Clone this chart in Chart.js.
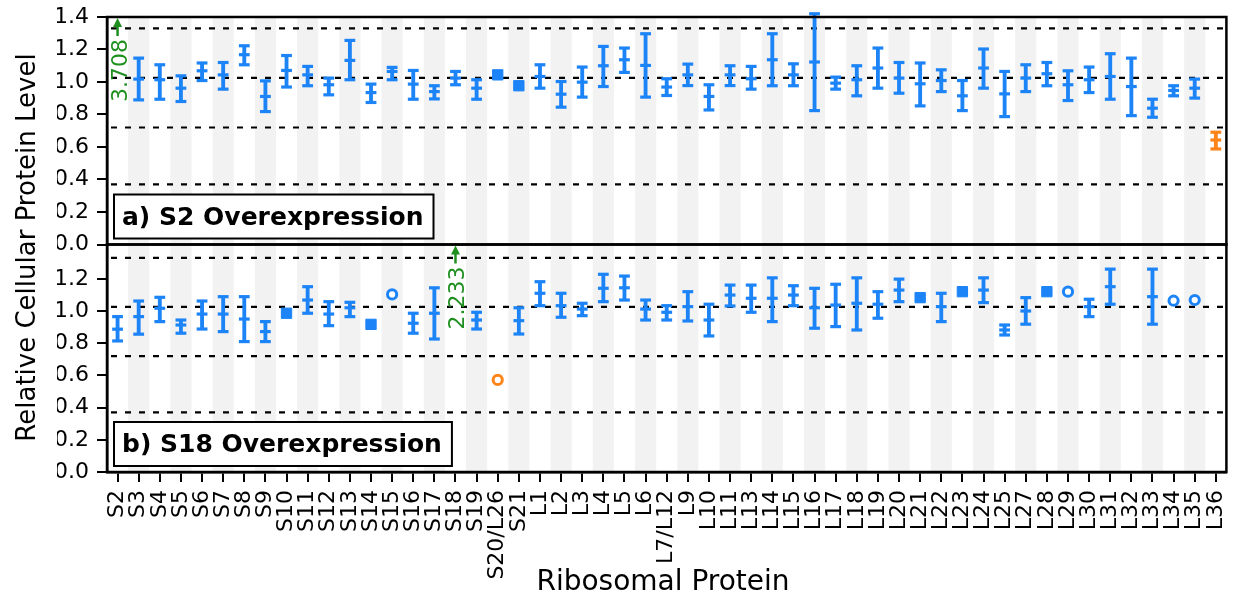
<!DOCTYPE html>
<html>
<head>
<meta charset="utf-8">
<title>Ribosomal Protein</title>
<script src="https://cdn.jsdelivr.net/npm/chart.js@4.4.1/dist/chart.umd.min.js"></script>
<style>
  body { margin: 0; background: #fff; }
  #kutu { width: 1235px; height: 596px; position: relative; }
</style>
</head>
<body>
<div id="kutu"><canvas id="grafik"></canvas></div>
<script>
var proteins = ['S2','S3','S4','S5','S6','S7','S8','S9','S10','S11','S12','S13','S14','S15','S16','S17','S18','S19','S20/L26','S21',
  'L1','L2','L3','L4','L5','L6','L7/L12','L9','L10','L11','L13','L14','L15','L16','L17','L18','L19','L20','L21','L22','L23','L24',
  'L25','L27','L28','L29','L30','L31','L32','L33','L34','L35','L36'];

/* a) S2 overexpression */
var aMean = [null,1.018,1.014,0.962,1.069,1.044,1.168,0.911,1.071,1.044,0.983,1.133,0.935,1.065,0.987,0.941,1.024,0.962,null,null,
  1.034,0.925,0.999,1.100,1.137,1.102,0.969,1.044,0.911,1.044,1.020,1.137,1.044,1.123,0.993,1.014,1.086,1.024,0.989,1.009,0.915,1.086,
  0.927,1.024,1.051,0.983,1.014,1.034,0.972,0.839,0.948,0.962,0.643];
var aLow = [null,0.890,0.894,0.880,1.009,0.956,1.106,0.818,0.969,0.977,0.921,1.014,0.874,1.014,0.894,0.896,0.983,0.894,null,null,
  0.962,0.845,0.907,0.972,1.059,0.907,0.917,0.978,0.828,0.978,0.956,0.977,0.977,0.824,0.956,0.915,0.962,0.931,0.853,0.941,0.824,0.962,
  0.787,0.941,0.977,0.886,0.935,0.894,0.793,0.783,0.915,0.901,0.588];
var aHigh = [null,1.147,1.106,1.038,1.117,1.120,1.223,1.007,1.163,1.096,1.024,1.256,0.987,1.090,1.071,0.977,1.065,1.014,null,null,
  1.106,1.003,1.092,1.219,1.209,1.297,1.020,1.110,0.983,1.100,1.096,1.297,1.112,1.420,1.030,1.100,1.209,1.120,1.117,1.075,1.009,1.203,
  1.065,1.106,1.120,1.069,1.092,1.174,1.147,0.894,0.977,1.018,0.691];
var aSquareCats = ['S20/L26','S21'];
var aSquareVals = [1.044, 0.977];
var aCircleCats = [];
var aCircleVals = [];
var aOrange = ['L36'];
var aArrowCats = ['S2'];
var aArrowTexts = ['3.708'];

/* b) S18 overexpression */
var bMean = [0.887,0.965,1.017,0.913,0.981,0.981,0.950,0.872,null,1.068,0.981,1.020,null,null,0.924,0.986,null,0.944,null,0.940,
  1.110,1.033,1.012,1.141,1.144,1.012,0.992,1.027,0.944,1.099,1.079,1.079,1.099,1.020,1.037,1.048,1.042,1.130,null,1.027,null,1.130,
  0.882,1.000,null,null,1.027,1.151,null,1.089,null,null,null];
var bLow = [0.814,0.856,0.934,0.862,0.888,0.872,0.810,0.810,null,0.986,0.909,0.965,null,null,0.862,0.826,null,0.888,null,0.857,
  1.033,0.961,0.971,1.058,1.068,0.944,0.944,0.938,0.845,1.031,0.992,0.934,1.033,0.893,0.903,0.882,0.955,1.058,null,0.934,null,1.052,
  0.851,0.918,null,null,0.965,1.042,null,0.918,null,null,null];
var bHigh = [0.965,1.062,1.085,0.944,1.062,1.089,1.089,0.934,null,1.151,1.058,1.054,null,null,0.986,1.144,null,0.992,null,1.020,
  1.182,1.110,1.048,1.228,1.217,1.068,1.033,1.120,1.042,1.161,1.161,1.206,1.157,1.141,1.166,1.206,1.120,1.198,null,1.110,null,1.206,
  0.913,1.083,null,null,1.073,1.260,null,1.260,null,null,null];
var bSquareCats = ['S10','S14','L21','L23','L28'];
var bSquareVals = [0.986, 0.917, 1.083, 1.120, 1.120];
var bCircleCats = ['S15','S20/L26','L29','L34','L35'];
var bCircleVals = [1.103, 0.572, 1.120, 1.064, 1.068];
var bOrange = ['S20/L26'];
var bArrowCats = ['S18'];
var bArrowTexts = ['2.233'];

var panelTitles = ['a) S2 Overexpression', 'b) S18 Overexpression'];
var topTicks = [0, 0.2, 0.4, 0.6, 0.8, 1.0, 1.2, 1.4];
var bottomTicks = [0, 0.2, 0.4, 0.6, 0.8, 1.0, 1.2];
var refLines = [0.37, 0.72, 1.025, 1.33];

var MAVI = '#1c84f7';
var TURUNCU = '#fd8418';
var YESIL = '#1f8f1f';
var FONT = '"DejaVu Sans", sans-serif';

function renkSec(orangeList) {
  return function (ctx) {
    var ad = ctx.raw && ctx.raw.x !== undefined ? ctx.raw.x : proteins[ctx.dataIndex];
    return orangeList.indexOf(ad) >= 0 ? TURUNCU : MAVI;
  };
}

function panelSetleri(mean, low, high, sqCats, sqVals, ciCats, ciVals, orange, eksen) {
  var renk = renkSec(orange);
  var araliklar = low.map(function (v, i) { return v === null ? null : [v, high[i]]; });
  var nokta = function (values, style, r, bw, fill) {
    return {
      type: 'line', data: values, yAxisID: eksen, showLine: false, clip: false,
      pointStyle: style, pointRadius: r, pointBorderWidth: bw,
      pointBorderColor: renk, pointBackgroundColor: fill || renk
    };
  };
  return [
    { type: 'bar', data: araliklar, yAxisID: eksen, grouped: false, barThickness: 3.2,
      backgroundColor: renk, borderWidth: 0, clip: false },
    nokta(high, 'line', 5.4, 3.2),
    nokta(low, 'line', 5.4, 3.2),
    nokta(mean, 'line', 5.4, 3.2),
    nokta(sqCats.map(function (c, i) { return { x: c, y: sqVals[i] }; }), 'rect', 7.3, 1),
    nokta(ciCats.map(function (c, i) { return { x: c, y: ciVals[i] }; }), 'circle', 4.6, 3, '#fff')
  ];
}

var panelCizimi = {
  id: 'panelCizimi',
  beforeDraw: function (chart) {
    var ctx = chart.ctx, area = chart.chartArea, x = chart.scales.x;
    var w = x.getPixelForValue(1) - x.getPixelForValue(0);
    ctx.save();
    ctx.fillStyle = '#f2f2f2';
    for (var i = 1; i < proteins.length; i += 2) {
      var px = x.getPixelForValue(i);
      ctx.fillRect(px - w / 2, area.top, w, area.bottom - area.top);
    }
    ctx.restore();
  },
  beforeDatasetsDraw: function (chart) {
    var ctx = chart.ctx, area = chart.chartArea;
    ctx.save();
    ctx.strokeStyle = '#000';
    ctx.lineWidth = 2.2;
    ctx.setLineDash([6, 8]);
    [chart.scales.yTop, chart.scales.yBot].forEach(function (s) {
      refLines.forEach(function (v) {
        var py = s.getPixelForValue(v);
        ctx.beginPath();
        ctx.moveTo(area.left + 4, py);
        ctx.lineTo(area.right, py);
        ctx.stroke();
      });
    });
    ctx.restore();
  },
  afterDatasetsDraw: function (chart) {
    var ctx = chart.ctx, area = chart.chartArea, x = chart.scales.x;
    var paneller = [
      { s: chart.scales.yTop, title: panelTitles[0], okCats: aArrowCats, okTexts: aArrowTexts },
      { s: chart.scales.yBot, title: panelTitles[1], okCats: bArrowCats, okTexts: bArrowTexts }
    ];
    ctx.save();
    paneller.forEach(function (p) {
      var s = p.s;
      // cerceve
      ctx.strokeStyle = '#000';
      ctx.lineWidth = 2.5;
      ctx.strokeRect(area.left, s.top, area.right - area.left, s.bottom - s.top);

      // panel basligi kutusu
      ctx.font = 'bold 25px ' + FONT;
      var tw = ctx.measureText(p.title).width;
      var kx = area.left + 7;
      var ky = s.bottom - 50;
      ctx.fillStyle = '#fff';
      ctx.fillRect(kx, ky, tw + 18, 44);
      ctx.lineWidth = 2;
      ctx.strokeRect(kx, ky, tw + 18, 44);
      ctx.fillStyle = '#000';
      ctx.textAlign = 'left';
      ctx.textBaseline = 'alphabetic';
      ctx.fillText(p.title, kx + 8, s.bottom - 20);

      // olcek disi degerler icin oklar
      p.okCats.forEach(function (c, i) {
        var px = x.getPixelForValue(proteins.indexOf(c));
        var ust = s.top;
        ctx.strokeStyle = YESIL;
        ctx.fillStyle = YESIL;
        ctx.lineWidth = 2.5;
        ctx.beginPath();
        ctx.moveTo(px, ust + 19);
        ctx.lineTo(px, ust + 8);
        ctx.stroke();
        ctx.beginPath();
        ctx.moveTo(px, ust + 1);
        ctx.lineTo(px - 4.5, ust + 10);
        ctx.lineTo(px + 4.5, ust + 10);
        ctx.closePath();
        ctx.fill();
        ctx.save();
        ctx.translate(px + 9, ust + 22);
        ctx.rotate(-Math.PI / 2);
        ctx.font = '22px ' + FONT;
        ctx.textAlign = 'right';
        ctx.textBaseline = 'alphabetic';
        ctx.fillText(p.okTexts[i], 0, 0);
        ctx.restore();
      });
    });
    ctx.restore();
  },
  afterDraw: function (chart) {
    var ctx = chart.ctx, area = chart.chartArea;
    ctx.save();
    ctx.fillStyle = '#000';
    ctx.font = '28px ' + FONT;
    ctx.textAlign = 'center';
    ctx.textBaseline = 'alphabetic';
    ctx.fillText('Ribosomal Protein', 663, 590);
    ctx.translate(35, (area.top + area.bottom) / 2 + 3);
    ctx.rotate(-Math.PI / 2);
    ctx.font = '26px ' + FONT;
    ctx.fillText('Relative Cellular Protein Level', 0, 0);
    ctx.restore();
  }
};

function yEkseni(maxDeger, tikler) {
  return {
    type: 'linear', position: 'left', stack: 'paneller', stackWeight: 1,
    min: 0, max: maxDeger,
    afterBuildTicks: function (scale) {
      scale.ticks = tikler.map(function (v) { return { value: v }; });
    },
    afterFit: function (scale) {
      scale.width = 50;
      scale.paddingTop = 0;
      scale.paddingBottom = 0;
    },
    ticks: {
      autoSkip: false, color: '#000', padding: 8, font: { family: FONT, size: 22 },
      callback: function (v) { return Number(v).toFixed(1); }
    },
    grid: { drawOnChartArea: false, tickLength: 10, color: '#000', lineWidth: 2 },
    border: { color: '#000', width: 2.5 }
  };
}

var datasets = panelSetleri(aMean, aLow, aHigh, aSquareCats, aSquareVals, aCircleCats, aCircleVals, aOrange, 'yTop')
  .concat(panelSetleri(bMean, bLow, bHigh, bSquareCats, bSquareVals, bCircleCats, bCircleVals, bOrange, 'yBot'));

new Chart(document.getElementById('grafik'), {
  type: 'bar',
  data: { labels: proteins, datasets: datasets },
  options: {
    responsive: true,
    maintainAspectRatio: false,
    animation: false,
    layout: { padding: { left: 57, right: 2, top: 17, bottom: 0 } },
    plugins: { legend: { display: false }, tooltip: { enabled: false } },
    scales: {
      x: {
        type: 'category', offset: true,
        afterFit: function (scale) {
          scale.height = 124;
          scale.paddingLeft = 0;
          scale.paddingRight = 0;
        },
        ticks: { autoSkip: false, minRotation: 90, maxRotation: 90, padding: 8, color: '#000',
          font: { family: FONT, size: 22 } },
        grid: { offset: false, drawOnChartArea: false, tickLength: 10, color: '#000', lineWidth: 2 },
        border: { color: '#000', width: 2.5 }
      },
      yBot: yEkseni(1.413, bottomTicks),
      yTop: yEkseni(1.4, topTicks)
    }
  },
  plugins: [panelCizimi]
});
</script>
</body>
</html>
